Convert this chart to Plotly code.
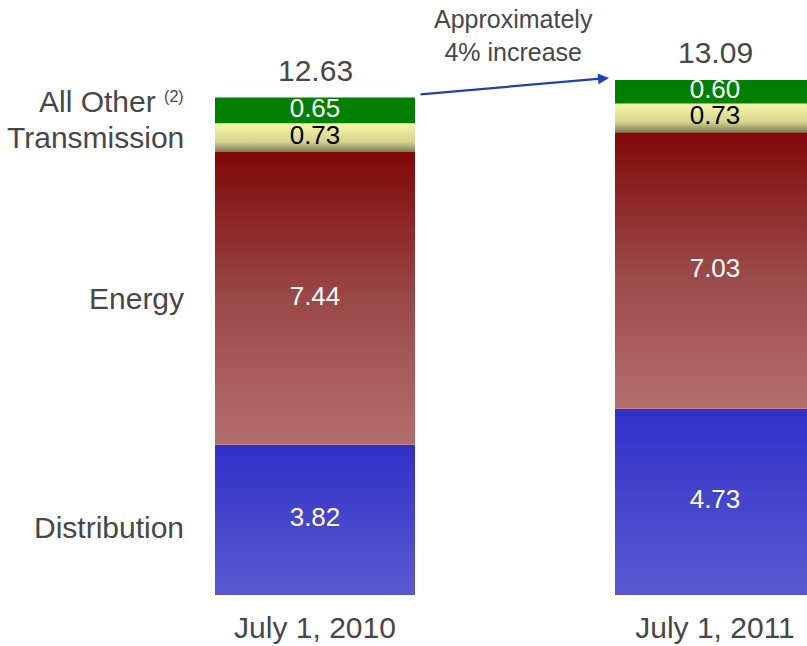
"""Stacked rate components, July 2010 vs July 2011."""

import plotly.graph_objects as go

dates = ["July 1, 2010", "July 1, 2011"]
categories = ["Distribution", "Energy", "Transmission", "All Other"]
distribution = [3.82, 4.73]
energy = [7.44, 7.03]
transmission = [0.73, 0.73]
all_other = [0.65, 0.60]
totals = [12.63, 13.09]
change_note = "Approximately<br>4% increase"

series = [distribution, energy, transmission, all_other]
# gradient colorscale per segment: 0 = bottom, 1 = top
gradients = [
    [[0, "#5a5ad2"], [1, "#3030c8"]],
    [[0, "#b46e6e"], [0.5, "#9a4848"], [1, "#800808"]],
    [[0, "#7e7a58"], [0.35, "#d6d48e"], [1, "#f8f8a8"]],
    [[0, "#008000"], [1, "#008000"]],
]
label_colors = ["white", "white", "black", "white"]
text_grey = "#474747"
half_w = 0.25
xs = list(range(len(dates)))
x_range = [-0.3, 1.23]

traces = []
labels_x, labels_y, labels_text, labels_color = [], [], [], []
mids_first_bar = []
for i, x in enumerate(xs):
    base = 0.0
    for j, vals in enumerate(series):
        top = base + vals[i]
        traces.append(go.Scatter(
            x=[x - half_w, x + half_w, x + half_w, x - half_w, x - half_w],
            y=[base, base, top, top, base],
            mode="lines",
            line={"width": 0},
            fill="toself",
            fillgradient={
                "type": "vertical",
                "colorscale": gradients[j]
            },
            hoverinfo="skip",
            showlegend=False
        ))
        labels_x.append(x)
        labels_y.append((base + top) / 2)
        labels_text.append("%.2f" % vals[i])
        labels_color.append(label_colors[j])
        if i == 0:
            mids_first_bar.append((base + top) / 2)
        base = top

traces.append(go.Scatter(
    x=labels_x,
    y=labels_y,
    text=labels_text,
    mode="text",
    textfont={"color": labels_color, "size": 26},
    hoverinfo="skip",
    showlegend=False
))

annotations = []
for i, x in enumerate(xs):
    stack_top = sum(vals[i] for vals in series)
    annotations.append({
        "x": x, "y": stack_top, "xref": "x", "yref": "y",
        "text": "%.2f" % totals[i], "showarrow": False,
        "yanchor": "bottom", "yshift": 9,
        "font": {"size": 30, "color": text_grey}
    })

# category names sit left of the plot area, so place them in paper coords
cat_text = ["Distribution", "Energy", "Transmission",
            "All Other <span style='font-size:23px'><sup>(2)</sup></span>"]
cat_shift = [-8, 0, 0, 9]
label_x_paper = (-0.323 - x_range[0]) / (x_range[1] - x_range[0])
for j, name in enumerate(cat_text):
    annotations.append({
        "x": label_x_paper, "y": mids_first_bar[j],
        "xref": "paper", "yref": "y",
        "text": name, "showarrow": False, "xanchor": "right",
        "yshift": cat_shift[j],
        "font": {"size": 30, "color": text_grey}
    })

# arrow between the two stack tops
top0 = sum(vals[0] for vals in series)
top1 = sum(vals[1] for vals in series)
annotations.append({
    "x": xs[1] - half_w - 0.015, "y": top1 + 0.05,
    "ax": xs[0] + half_w + 0.01, "ay": top0 + 0.08,
    "xref": "x", "yref": "y", "axref": "x", "ayref": "y",
    "text": "", "showarrow": True, "arrowhead": 2, "arrowsize": 1,
    "arrowwidth": 2.2, "arrowcolor": "#2040b8"
})
annotations.append({
    "x": 0.495, "y": 1.0, "xref": "x", "yref": "paper",
    "text": change_note, "showarrow": False, "yanchor": "top",
    "yshift": -3,
    "font": {"size": 25, "color": text_grey}
})

fig = go.Figure(data=traces)
fig.update_layout(
    width=807,
    height=646,
    margin={"l": 195, "r": 0, "t": 0, "b": 51},
    plot_bgcolor="white",
    paper_bgcolor="white",
    font={"family": "Liberation Sans, Arial, sans-serif"},
    annotations=annotations,
    showlegend=False,
    xaxis={
        "range": x_range,
        "tickmode": "array",
        "tickvals": xs,
        "ticktext": dates,
        "tickfont": {"size": 30, "color": text_grey},
        "ticks": "",
        "ticklabelstandoff": 12,
        "showgrid": False,
        "zeroline": False,
        "showline": False,
        "fixedrange": True
    },
    yaxis={
        "range": [0, 15.12],
        "visible": False,
        "fixedrange": True
    }
)
fig.write_html("out.html", config={"displayModeBar": False},
               post_script="document.body.style.margin='0';")
